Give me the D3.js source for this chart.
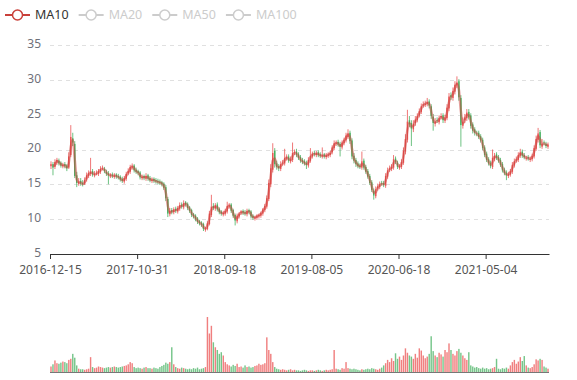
<!DOCTYPE html>
<html>
<head>
<meta charset="utf-8">
<script src="https://cdn.jsdelivr.net/npm/d3@7/dist/d3.min.js"></script>
<style>
	body { margin: 0; background: #fff; }
	text { font-family: "Noto Sans", sans-serif; }
</style>
</head>
<body>
<div id="chart-area"></div>
<script>
/******************************
*			DATA			  *
******************************/
// one candle per trading week
const legendNames = ["MA10", "MA20", "MA50", "MA100"];
const activeSeries = ["MA10"];
const tickLabels = ["2016-12-15", "2017-10-31", "2018-09-18", "2019-08-05", "2020-06-18", "2021-05-04"];
const candlesPerLabel = 44;
const priceTicks = [5, 10, 15, 20, 25, 30, 35];
const maDays = 10, daysPerCandle = 5;

const opens = [
	17.6,17.9,17.5,18.1,18.4,18.1,17.6,17.9,17.7,17.4,
	19.2,21.6,20.8,16.3,15.1,15.5,15.2,15.1,15.7,16.2,
	16.5,16.9,16.3,16.6,16.5,16.8,17.3,17.2,16.8,16.6,
	16.2,16.4,16.1,16.4,16.2,16.1,15.8,15.4,15.8,16.6,
	16.8,17.4,17.7,17.1,16.9,16.7,15.9,16.2,15.8,16.3,
	15.9,15.5,15.8,15.6,15.5,15.4,15.3,15.1,14.6,12.9,
	10.7,11.3,11.0,11.5,11.1,11.5,12.1,11.7,12.4,12.2,
	11.7,11.3,10.7,10.5,10.1,9.7,9.5,9.3,8.5,8.6,
	9.3,10.6,11.9,11.5,12.1,11.5,11.1,10.7,10.8,11.1,
	11.8,12.1,11.3,10.6,9.7,10.4,10.9,11.2,11.0,10.7,
	11.3,11.1,10.5,10.1,10.2,10.4,10.5,10.8,11.3,11.8,
	12.9,15.0,17.1,19.8,18.0,17.6,17.2,18.0,18.0,18.7,
	19.0,18.3,18.5,19.6,19.7,19.3,18.9,18.5,18.3,18.1,
	17.7,18.4,19.0,19.5,19.2,19.6,19.3,19.0,19.3,18.9,
	19.1,19.2,19.6,20.2,20.8,21.1,20.8,20.3,20.9,21.3,
	21.8,22.4,21.3,19.1,18.5,18.0,17.7,17.4,18.4,17.5,
	16.9,16.2,15.3,14.1,13.3,14.4,14.6,15.2,15.2,14.8,
	16.1,17.1,17.2,17.4,18.7,18.1,17.4,17.5,18.1,19.7,
	21.4,24.2,23.8,22.9,23.8,24.2,24.9,25.4,26.3,26.4,
	26.5,26.9,26.2,24.7,23.7,24.2,23.9,24.6,24.9,24.1,
	24.5,25.9,27.8,27.4,28.3,29.2,29.8,27.4,23.4,24.2,
	24.5,25.4,24.9,23.6,22.9,22.3,22.4,21.9,21.4,20.3,
	19.4,18.6,18.1,17.5,18.6,19.3,18.9,18.5,17.9,17.1,
	16.7,16.2,16.4,16.8,17.7,18.4,18.5,19.1,19.7,19.2,
	18.7,18.9,18.5,18.6,19.0,20.1,21.4,22.5,20.4,21.0,20.8,20.4
];

const closes = [
	17.9,17.4,18.2,18.5,18.0,17.7,17.8,17.6,17.3,19.0,
	21.8,21.0,16.2,15.2,15.4,15.1,15.0,15.6,16.3,16.6,
	16.8,16.4,16.5,16.6,16.9,17.2,17.3,16.9,16.5,16.3,
	16.3,16.2,16.3,16.1,16.0,15.7,15.5,15.9,16.5,16.9,
	17.5,17.6,17.0,16.8,16.6,16.0,16.1,15.9,16.2,15.8,
	15.6,15.7,15.5,15.4,15.3,15.2,15.0,14.5,13.0,10.8,
	11.2,11.0,11.4,11.2,11.6,12.0,11.8,12.3,12.1,11.6,
	11.2,10.6,10.4,10.0,9.6,9.4,9.2,8.6,8.7,9.4,
	10.8,11.8,11.6,12.0,11.4,11.0,10.8,10.9,11.2,11.9,
	12.0,11.2,10.5,9.8,10.5,10.8,11.1,10.9,10.8,11.2,
	11.0,10.4,10.2,10.3,10.5,10.6,10.9,11.4,11.9,13.0,
	15.2,17.3,19.5,17.9,17.5,17.3,17.9,18.1,18.8,18.9,
	18.4,18.6,19.5,19.6,19.2,18.8,18.4,18.2,18.0,17.8,
	18.5,19.1,19.4,19.3,19.5,19.2,19.1,19.2,19.0,19.2,
	19.3,19.5,20.3,20.9,21.0,20.7,20.4,21.0,21.4,22.0,
	22.3,21.2,19.0,18.4,17.9,17.6,17.5,18.3,17.4,16.8,
	16.1,15.2,14.2,13.4,14.3,14.7,15.0,15.1,14.9,16.2,
	17.0,17.3,17.5,18.6,18.2,17.5,17.6,18.2,19.8,21.5,
	24.0,23.6,23.0,23.7,24.3,24.8,25.5,26.2,26.5,26.6,
	26.8,26.3,24.8,23.8,24.0,24.1,24.5,24.8,24.2,24.6,
	26.0,27.6,27.5,28.4,29.3,29.6,27.5,23.5,24.0,24.6,
	25.3,24.6,23.4,22.7,22.4,22.2,21.8,21.3,20.2,19.2,
	18.5,18.0,17.6,18.8,19.1,18.8,18.4,17.8,17.0,16.6,
	16.3,16.5,16.9,17.8,18.3,18.6,19.2,19.6,19.1,18.9,
	18.8,18.7,18.7,19.1,20.2,21.5,22.3,20.6,20.8,20.9,20.5,20.7
];

const lows = [
	17.2,16.3,17.2,17.8,17.7,17.4,17.3,17.3,16.9,17.2,
	18.9,20.5,15.9,14.6,14.8,14.8,14.7,14.9,15.4,15.9,
	16.2,16.1,16.0,16.3,16.2,16.5,17.0,16.6,16.2,15.0,
	15.9,15.9,15.8,15.8,15.7,15.4,15.2,15.1,15.5,16.3,
	16.5,17.1,16.7,16.5,16.3,15.7,15.6,15.6,15.5,15.5,
	15.3,15.2,15.2,15.1,15.0,14.9,14.7,14.2,12.6,10.3,
	10.4,10.7,10.7,10.9,10.8,11.2,11.5,11.4,11.8,11.3,
	10.9,10.3,10.1,9.7,9.3,9.1,8.9,8.3,8.2,8.4,
	9.1,10.3,11.3,11.2,11.1,10.7,10.5,10.4,10.5,10.8,
	11.5,10.9,10.2,9.1,9.4,10.1,10.6,10.6,10.5,10.4,
	10.7,10.1,9.9,9.8,9.9,10.1,10.2,10.5,11.0,11.5,
	12.6,14.6,16.7,17.4,17.1,16.9,16.9,17.7,17.7,18.4,
	18.1,18.0,18.2,19.2,18.9,18.5,18.1,17.9,17.7,17.2,
	17.4,18.1,18.7,19.0,18.9,18.9,18.8,18.7,18.7,18.6,
	18.8,18.9,19.3,19.9,20.5,20.4,19.0,20.0,20.6,21.0,
	21.5,20.8,18.6,18.0,17.5,17.3,17.2,17.1,17.1,16.5,
	15.8,14.9,13.9,12.8,13.0,14.1,14.3,14.8,14.6,14.5,
	15.8,16.8,16.9,17.1,17.9,17.2,17.1,17.2,17.8,19.3,
	21.0,23.2,20.5,22.5,23.4,23.9,24.6,25.1,26.0,26.1,
	26.2,25.9,24.4,22.7,23.3,23.8,23.6,24.3,23.8,23.8,
	24.2,25.5,27.1,27.0,27.9,28.8,27.0,20.4,23.0,23.8,
	24.1,24.3,23.0,22.3,22.0,21.9,21.5,21.0,19.9,18.9,
	18.2,17.7,17.3,17.2,18.3,18.5,18.1,17.5,16.7,16.3,
	15.6,15.9,16.1,16.5,17.4,18.1,18.2,18.8,18.8,18.6,
	18.4,18.4,18.2,18.3,18.7,19.8,21.0,20.2,20.1,20.6,20.2,20.1
];

const highs = [
	18.3,18.2,18.6,18.8,18.7,18.3,18.1,18.2,17.9,19.6,
	23.5,22.4,21.2,16.8,15.9,15.9,15.6,16.0,16.7,17.0,
	18.8,17.2,16.9,17.0,17.2,17.6,17.7,17.5,17.1,16.9,
	16.6,16.7,16.6,16.6,16.5,16.3,16.1,16.2,16.8,17.3,
	17.8,18.0,17.9,17.4,17.1,16.9,16.4,16.4,16.6,16.5,
	16.2,16.0,16.0,15.9,15.8,15.7,15.5,15.3,14.9,13.2,
	11.6,11.6,11.7,11.8,11.9,12.4,12.4,12.7,12.6,12.4,
	11.9,11.5,10.9,10.7,10.3,9.9,9.7,9.5,8.9,9.7,
	11.2,13.5,12.3,12.3,12.4,11.7,11.3,11.2,11.5,12.5,
	12.3,12.3,11.5,10.8,10.8,11.0,11.3,11.4,11.3,11.5,
	11.5,11.3,10.7,10.5,10.7,10.8,11.1,11.6,12.2,13.4,
	15.7,17.9,20.9,20.2,18.4,17.9,18.3,18.5,20.1,19.3,
	19.3,19.0,21.0,20.0,20.1,19.6,19.2,18.8,18.6,18.4,
	18.9,20.2,19.7,19.8,19.8,19.9,19.6,20.3,19.5,19.5,
	19.6,19.8,20.6,21.3,21.3,21.4,21.1,21.3,21.7,22.4,
	22.9,22.7,21.6,19.5,18.8,18.3,18.0,19.7,18.7,17.8,
	17.2,16.5,15.6,14.4,14.7,15.1,15.4,15.5,15.5,16.6,
	17.4,17.7,17.9,19.2,19.0,18.4,17.9,18.6,20.3,22.2,
	25.7,24.8,24.2,24.2,24.8,25.2,25.9,26.6,26.9,27.0,
	27.4,27.2,26.5,25.1,24.5,24.6,24.9,25.2,25.2,25.0,
	26.5,28.1,28.2,28.9,29.8,30.5,30.1,27.8,24.6,25.1,
	25.8,25.8,25.2,23.9,23.2,22.7,22.7,22.2,21.7,20.6,
	19.7,18.9,18.4,20.0,19.5,19.6,19.2,18.8,18.2,17.4,
	17.0,16.8,17.2,18.2,18.7,19.0,19.6,20.1,20.0,19.5,
	19.1,19.2,19.0,19.4,20.6,22.0,23.1,22.8,21.5,21.3,21.1,21.0
];

const volumes = [
	10,14,21,16,15,17,19,18,16,22,
	24,33,26,12,6,5,5,4,5,6,
	27,9,7,8,10,9,8,7,8,9,
	8,9,10,9,8,9,10,11,12,14,
	18,16,9,7,8,7,6,8,9,7,
	7,6,8,7,6,9,11,13,17,15,
	18,45,14,9,7,6,8,7,6,5,
	6,5,7,6,8,5,6,7,9,100,
	70,84,54,45,40,33,36,30,18,14,
	12,10,13,11,15,9,10,8,12,9,
	10,8,9,11,12,15,13,14,16,63,
	40,33,18,9,6,5,4,5,4,3,
	4,5,3,4,3,3,2,3,4,3,
	2,3,3,2,3,4,3,2,3,4,
	3,4,5,40,6,5,4,7,6,18,
	7,6,5,6,5,4,3,5,4,5,
	6,5,7,6,5,4,6,8,12,16,
	22,18,25,20,34,24,28,22,30,43,
	35,30,28,24,33,26,43,39,30,25,
	28,33,65,38,30,27,35,32,28,40,
	36,52,40,33,30,38,42,35,30,25,
	22,36,12,10,8,9,7,6,8,6,
	7,5,6,7,9,24,6,5,7,6,
	8,6,12,18,22,15,19,27,20,29,
	12,8,7,9,14,23,21,24,22,10,8,6
];

/******************************
*	DIMENSIONS AND MARGINS	  *
******************************/
const width = 577, height = 380;
const left = 50, right = 549;
const priceTop = 45, priceBottom = 254;
const volTop = 317, volBottom = 372;

const upColor = "#eb5454", downColor = "#47b262";
const maColor = "#c9403a";

var svg = d3.select("#chart-area")
	.append("svg")
		.attr("width", width)
		.attr("height", height);

var n = closes.length;

/******************************
*			SCALES			  *
******************************/
var x = d3.scaleLinear()
	.domain([0, n])
	.range([left, right]);

var y = d3.scaleLinear()
	.domain([d3.min(priceTicks), d3.max(priceTicks)])
	.range([priceBottom, priceTop]);

var yVol = d3.scaleLinear()
	.domain([0, d3.max(volumes)])
	.range([volBottom, volTop]);

var step = x(1) - x(0);
var bodyW = step * 0.72;

/******************************
*			GRID			  *
******************************/
svg.append("g")
	.selectAll("line")
	.data(priceTicks.slice(1))
	.enter().append("line")
		.attr("x1", left)
		.attr("x2", right)
		.attr("y1", d => Math.round(y(d)) + 0.5)
		.attr("y2", d => Math.round(y(d)) + 0.5)
		.attr("stroke", "#e0e0e0")
		.attr("stroke-dasharray", "4,4");

/******************************
*			Y-AXIS			  *
******************************/
var yAxisCall = d3.axisLeft(y)
	.tickValues(priceTicks)
	.tickSize(0)
	.tickPadding(9);

var yAxis = svg.append("g")
	.attr("transform", "translate(" + left + ",0)")
	.call(yAxisCall);
yAxis.select(".domain").remove();
yAxis.selectAll("text")
	.attr("fill", "#6e7079")
	.attr("dy", "0.2em")
	.style("font-size", "12px")
	.style("font-family", "'Noto Sans', sans-serif");

/******************************
*			CANDLES			  *
******************************/
var candles = svg.append("g")
	.selectAll("g")
	.data(closes.map((c, i) => ({ i: i, o: opens[i], c: c, l: lows[i], h: highs[i], v: volumes[i] })))
	.enter().append("g");

candles.append("line")
	.attr("x1", d => x(d.i + 0.5))
	.attr("x2", d => x(d.i + 0.5))
	.attr("y1", d => y(d.h))
	.attr("y2", d => y(d.l))
	.attr("stroke", d => d.c >= d.o ? upColor : downColor)
	.attr("stroke-width", 0.8);

candles.append("rect")
	.attr("x", d => x(d.i + 0.5) - bodyW / 2)
	.attr("width", bodyW)
	.attr("y", d => y(Math.max(d.o, d.c)))
	.attr("height", d => Math.max(0.6, Math.abs(y(d.o) - y(d.c))))
	.attr("fill", d => d.c >= d.o ? upColor : downColor);

/******************************
*			MA LINE			  *
******************************/
// moving average over maDays trading days (maDays / daysPerCandle candles)
var win = maDays / daysPerCandle;
var ma = closes.map((c, i) => i < win - 1 ? null : d3.mean(closes.slice(i - win + 1, i + 1)));

var maLine = d3.line()
	.defined(d => d != null)
	.x((d, i) => x(i + 0.5))
	.y(d => y(d))
	.curve(d3.curveMonotoneX);

svg.append("path")
	.datum(ma)
	.attr("d", maLine)
	.attr("fill", "none")
	.attr("stroke", maColor)
	.attr("stroke-width", 2.5)
	.attr("stroke-opacity", 0.5);

/******************************
*			X-AXIS			  *
******************************/
var xAxisCall = d3.axisBottom(x)
	.tickValues(d3.range(0, tickLabels.length * candlesPerLabel, candlesPerLabel))
	.tickFormat((d, k) => tickLabels[k])
	.tickSizeOuter(0)
	.tickSizeInner(5)
	.tickPadding(6);

var xAxis = svg.append("g")
	.attr("transform", "translate(0," + priceBottom + ")")
	.call(xAxisCall);
xAxis.select(".domain").attr("stroke", "#333");
xAxis.selectAll(".tick line").attr("stroke", "#333");
xAxis.selectAll("text")
	.attr("fill", "#555")
	.style("font-size", "12px")
	.style("font-family", "'Noto Sans', sans-serif");

/******************************
*			VOLUME			  *
******************************/
svg.append("g")
	.selectAll("rect")
	.data(volumes)
	.enter().append("rect")
		.attr("x", (d, i) => x(i + 0.5) - bodyW / 2)
		.attr("width", bodyW)
		.attr("y", d => yVol(d))
		.attr("height", d => volBottom - yVol(d))
		.attr("fill", (d, i) => closes[i] >= opens[i] ? upColor : downColor)
		.attr("fill-opacity", 0.75);

svg.append("line")
	.attr("x1", left)
	.attr("x2", right)
	.attr("y1", volBottom + 0.5)
	.attr("y2", volBottom + 0.5)
	.attr("stroke", "#777");

/******************************
*			LEGEND			  *
******************************/
var legend = svg.append("g")
	.attr("transform", "translate(5, 15)");

var legendX = 0;
legendNames.forEach((name) => {
	var on = activeSeries.indexOf(name) >= 0;
	var col = on ? maColor : "#ccc";
	var item = legend.append("g")
		.attr("transform", "translate(" + legendX + ",0)");

	item.append("line")
		.attr("x1", 0)
		.attr("x2", 25)
		.attr("stroke", col)
		.attr("stroke-width", 2);

	item.append("circle")
		.attr("cx", 12.5)
		.attr("r", 5)
		.attr("fill", "#fff")
		.attr("stroke", col)
		.attr("stroke-width", 1.5);

	var label = item.append("text")
		.attr("x", 30)
		.attr("dy", "0.35em")
		.attr("fill", on ? "#333" : "#ccc")
		.style("font-size", "12.5px")
		.text(name);

	legendX += 30 + label.node().getComputedTextLength() + 10;
});
</script>
</body>
</html>
